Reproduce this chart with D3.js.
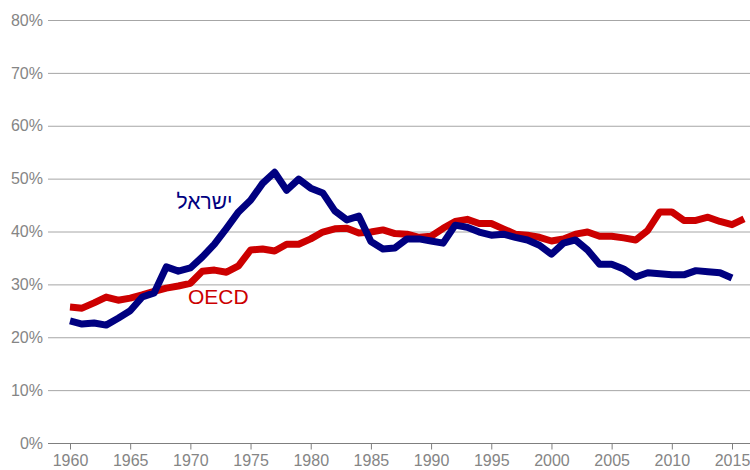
<!DOCTYPE html>
<html><head><meta charset="utf-8">
<script src="https://cdn.jsdelivr.net/npm/d3@7"></script>
<style>body{margin:0;background:#fff}svg{display:block}text{font-family:"Liberation Sans",Arial,sans-serif}</style>
</head><body><div id="chart"></div>
<script>
const years = d3.range(1960, 2017);
const israel = [23.1,22.5,22.7,22.3,23.6,25.0,27.6,28.4,33.3,32.5,
  33.1,35.2,37.6,40.6,43.7,45.9,49.1,51.2,47.8,49.9,
  48.2,47.3,43.9,42.2,42.9,38.1,36.7,36.9,38.6,38.6,
  38.2,37.8,41.2,40.8,39.9,39.3,39.5,38.9,38.4,37.4,
  35.7,37.8,38.4,36.5,33.8,33.8,32.9,31.4,32.2,32.0,
  31.8,31.8,32.6,32.4,32.2,31.2];
const oecd = [25.7,25.5,26.5,27.6,27.0,27.4,28.0,28.7,29.3,29.7,
  30.2,32.5,32.7,32.3,33.5,36.5,36.7,36.3,37.6,37.6,
  38.6,39.9,40.5,40.6,39.7,39.9,40.3,39.6,39.5,38.9,
  39.1,40.6,41.9,42.3,41.5,41.5,40.5,39.5,39.3,38.9,
  38.2,38.6,39.5,39.9,39.1,39.1,38.8,38.4,40.2,43.7,
  43.7,42.1,42.1,42.7,41.9,41.3,42.4];
const yTicks = [0,10,20,30,40,50,60,70,80];
const xTicks = d3.range(1960, 2016, 5);
const seriesLabels = ["ישראל", "OECD"];

const W = 750, H = 470;
const svg = d3.select("#chart").append("svg").attr("width", W).attr("height", H);
const x = d3.scaleLinear().domain([1960, 2015]).range([70, 732]);
const y = d3.scaleLinear().domain([0, 80]).range([443, 20]);

// grid
svg.append("g").selectAll("line").data(yTicks.filter(d => d > 0)).join("line")
  .attr("x1", 48).attr("x2", W).attr("y1", d => y(d) + 0.5).attr("y2", d => y(d) + 0.5)
  .attr("stroke", "#a6a6a6").attr("stroke-width", 1);

// y labels
const yAxis = d3.axisLeft(y).tickValues(yTicks).tickFormat(d => d + "%").tickSize(0).tickPadding(5);
const gy = svg.append("g").attr("transform", "translate(48,0)").call(yAxis);
gy.select(".domain").remove();
gy.selectAll("text").attr("fill", "#858585").style("font-size", "16px")
  .style("font-family", '"Liberation Sans", Arial, sans-serif');

// x axis
const xAxis = d3.axisBottom(x).tickValues(xTicks).tickFormat(d3.format("d")).tickSize(6).tickPadding(5).tickSizeOuter(0);
const gx = svg.append("g").attr("transform", `translate(0,${y(0) + 0.5})`).call(xAxis);
gx.select(".domain").attr("d", `M48,0H${W}`).attr("stroke", "#7f7f7f");
gx.selectAll(".tick line").attr("stroke", "#7f7f7f");
gx.selectAll("text").attr("fill", "#858585").style("font-size", "16px")
  .style("font-family", '"Liberation Sans", Arial, sans-serif');

const line = d3.line().x(d => x(d[0])).y(d => y(d[1])).curve(d3.curveLinear);
svg.append("path").datum(years.map((yr, i) => [yr, oecd[i]]))
  .attr("d", line).attr("fill", "none").attr("stroke", "#cc0000").attr("stroke-width", 7)
  .attr("stroke-linejoin", "round");
svg.append("path").datum(years.slice(0, israel.length).map((yr, i) => [yr, israel[i]]))
  .attr("d", line).attr("fill", "none").attr("stroke", "#000080").attr("stroke-width", 7)
  .attr("stroke-linejoin", "round");

svg.append("text").attr("x", x(1973.5)).attr("y", y(44.2)).attr("text-anchor", "end")
  .attr("fill", "#000080").style("font-size", "21px").text(seriesLabels[0]);
svg.append("text").attr("x", x(1969.8)).attr("y", y(26.2)).attr("text-anchor", "start")
  .attr("fill", "#cc0000").style("font-size", "21px").text(seriesLabels[1]);
</script></body></html>
